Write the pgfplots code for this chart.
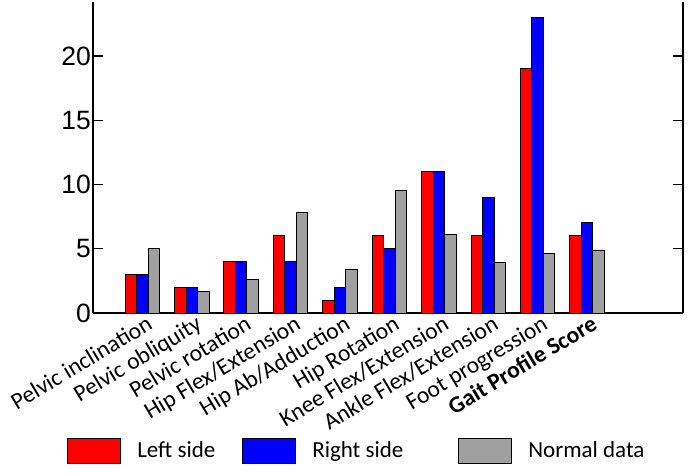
\documentclass[border=0pt]{standalone}
\usepackage{fontspec}
\setmainfont{Carlito}
\newfontfamily\arialfont{Liberation Sans}
\usepackage{pgfplots}
\pgfplotsset{compat=1.18}
\definecolor{ngray}{RGB}{160,160,160}
\pgfplotsset{mybox/.style={legend image code/.code={\draw[##1,line width=1pt] (0pt,-12.8pt) rectangle (53pt,12.2pt);}}}
\begin{document}
\begin{tikzpicture}
\begin{axis}[
  at={(93pt,159pt)}, anchor=south west,
  scale only axis, width=590pt, height=311pt,
  xmin=0, xmax=11.94, ymin=0, ymax=24.2,
  axis x line*=bottom, axis y line*=box,
  axis line style={line width=1.2pt, black},
  ybar=0pt, bar width=0.233,
  ytick={0,5,10,15,20}, ytick pos=both, tick align=inside,
  major tick length=10pt,
  y tick style={line width=1.2pt, black},
  /pgf/number format/assume math mode=true,
  yticklabel style={font=\arialfont\fontsize{26.5}{26.5}\selectfont, inner sep=2pt},
  xtick={1,...,10},
  xticklabels={Pelvic inclination, Pelvic obliquity, Pelvic rotation, Hip Flex/Extension, Hip Ab/Adduction, Hip Rotation, Knee Flex/Extension, Ankle Flex/Extension, Foot progression, \textbf{Gait Profile Score}},
  x tick style={draw=none},
  xticklabel style={rotate=31, anchor=base east, font=\fontsize{23.5}{23.5}\selectfont, inner sep=0pt, xshift=2pt, yshift=-19pt},
  legend columns=3,
  legend style={draw=none, fill=none, at={(-0.049,-0.4435)}, anchor=west,
    font=\fontsize{23}{23}\selectfont,
    nodes={inner sep=0pt},
    /tikz/every odd column/.append style={column sep=16pt}},
]
\addplot[fill=red, draw=black, line width=1pt, mybox] coordinates {(1,3) (2,2) (3,4) (4,6) (5,1) (6,6) (7,11) (8,6) (9,19) (10,6)};
\addlegendentry{\makebox[105pt][l]{Left side}}
\addplot[fill=blue, draw=black, line width=1pt, mybox] coordinates {(1,3) (2,2) (3,4) (4,4) (5,2) (6,5) (7,11) (8,9) (9,23) (10,7.05)};
\addlegendentry{\makebox[146pt][l]{Right side}}
\addplot[fill=ngray, draw=black, line width=1pt, mybox] coordinates {(1,5.0) (2,1.7) (3,2.6) (4,7.8) (5,3.4) (6,9.5) (7,6.1) (8,3.9) (9,4.6) (10,4.9)};
\addlegendentry{Normal data}
\end{axis}
\pgfresetboundingbox
\path (0,0) rectangle (689pt,472pt);
\end{tikzpicture}
\end{document}
